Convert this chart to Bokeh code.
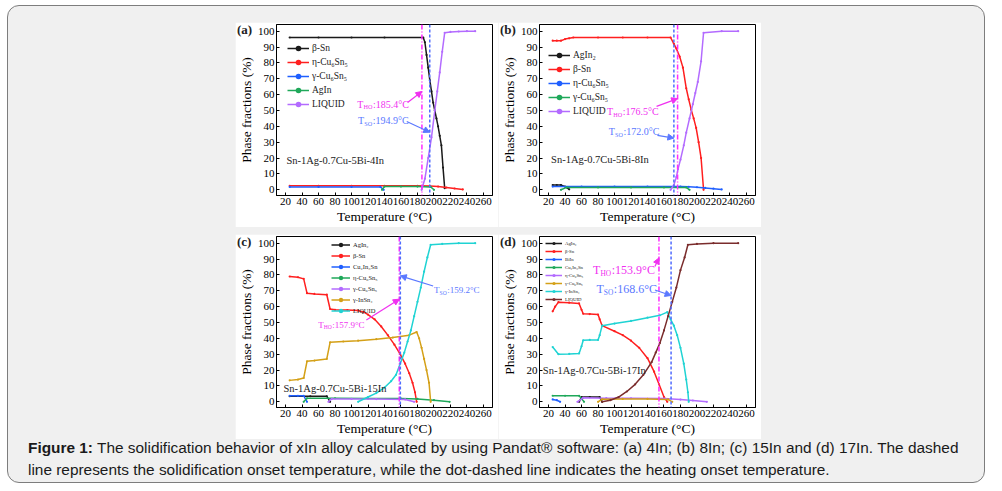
from bokeh.plotting import figure
from bokeh.models import (Legend, LegendItem, Label, Span, Arrow, NormalHead,
                          FixedTicker, Range1d, Div, Row, Column)
from bokeh.embed import file_html
from bokeh.resources import INLINE

# ---------------- data (temperature in °C, phase fraction in %) ----------------
X_TICKS = [20, 40, 60, 80, 100, 120, 140, 160, 180, 200, 220, 240, 260]
Y_TICKS = [0, 10, 20, 30, 40, 50, 60, 70, 80, 90, 100]

# (a) Sn-1Ag-0.7Cu-5Bi-4In
A_ALLOY = "Sn-1Ag-0.7Cu-5Bi-4In"
A_THO, A_TSO = 185.4, 194.9
A_BSN_T = [25, 60, 100, 140, 187, 189, 191, 193, 195, 197, 199, 201, 203, 205, 207, 209, 211, 213]
A_BSN = [96, 96, 96, 96, 96, 93, 85, 77, 69, 62, 55, 50, 45, 40, 34, 28, 14, 1]
A_ETA_T = [25, 60, 100, 140, 180, 195, 205, 215, 225, 235]
A_ETA = [2.5, 2.5, 2.5, 2.5, 2.5, 2.4, 2.0, 1.4, 0.8, 0.2]
A_GAM_T = [25, 60, 100, 135, 139]
A_GAM = [1.8, 1.8, 1.8, 1.8, 0]
A_AGIN_T = [137, 140, 160, 180, 196, 200]
A_AGIN = [0, 2.0, 2.0, 2.0, 1.8, 0]
A_LIQ_T = [185, 189, 193, 197, 201, 204, 207, 210, 213, 220, 230, 240, 250]
A_LIQ = [0, 7, 20, 33, 50, 62, 74, 87, 99, 99.5, 99.8, 100, 100]

# (b) Sn-1Ag-0.7Cu-5Bi-8In
B_ALLOY = "Sn-1Ag-0.7Cu-5Bi-8In"
B_THO, B_TSO = 176.5, 172.0
B_AGIN2_T = [25, 30, 35, 40, 45]
B_AGIN2 = [3, 3, 3, 2, 0.3]
B_BSN_T = [25, 30, 35, 40, 45, 50, 80, 110, 140, 168, 172, 175, 179, 183, 187, 190, 193, 196, 199, 202, 205, 208]
B_BSN = [94, 94, 94, 95, 95.5, 96, 96, 96, 96, 96, 92, 89, 84, 77, 64, 57, 50.5, 45, 39, 30, 20, 0]
B_ETA_T = [25, 60, 100, 140, 180, 190, 200, 210, 220, 230]
B_ETA = [2, 2, 2, 2, 2, 1.9, 1.6, 1.2, 0.7, 0.2]
B_GAM_T = [35, 42, 80, 120, 160, 187, 191]
B_GAM = [0, 1.5, 1.5, 1.5, 1.5, 1.5, 0]
B_LIQ_T = [168, 172, 175, 177, 180, 184, 187, 191, 195, 198, 201, 205, 208, 230, 250]
B_LIQ = [0, 3, 8, 13, 19, 28, 36, 45, 54, 61, 68, 81, 99, 100, 100]

# (c) Sn-1Ag-0.7Cu-5Bi-15In
C_ALLOY = "Sn-1Ag-0.7Cu-5Bi-15In"
C_THO, C_TSO = 157.9, 159.2
C_AGIN2_T = [25, 50, 70, 74]
C_AGIN2 = [3.5, 3.5, 3.5, 0]
C_BSN_T = [25, 35, 42, 46, 55, 70, 74, 80, 95, 108, 115, 120, 128, 136, 144, 152, 159, 165, 170, 174, 177, 179]
C_BSN = [79, 78.5, 77.5, 68.5, 68, 67.5, 58.5, 58, 57.8, 57.5, 56.5, 55, 52, 47.5, 42, 36, 30, 24, 18, 12, 6, 0]
C_CU2_T = [25, 35, 42, 46]
C_CU2 = [3.8, 3.8, 3.8, 0]
C_ETA_T = [42, 46, 80, 120, 160, 180, 200, 219]
C_ETA = [0, 2.2, 2.2, 2.1, 2.0, 1.8, 1.0, 0]
C_GCU_T = [72, 76, 100, 130, 165, 176]
C_GCU = [0, 1.8, 1.8, 1.7, 1.5, 0]
C_INSN_T = [25, 35, 42, 46, 55, 70, 74, 90, 108, 130, 150, 170, 179, 182, 185, 188, 191, 194, 196]
C_INSN = [13.5, 14, 15, 25.5, 26, 27, 37.5, 38, 38.5, 39.5, 40.5, 42, 44, 40, 34, 27, 20, 12, 0]
C_LIQ_T = [108, 120, 130, 140, 148, 154, 159, 164, 168, 172, 176, 180, 184, 188, 192, 196, 210, 230, 250]
C_LIQ = [0, 3, 5.5, 9, 13, 17, 24, 31, 38, 45, 54, 63, 72, 82, 91, 99, 99.5, 100, 100]

# (d) Sn-1Ag-0.7Cu-5Bi-17In
D_ALLOY = "Sn-1Ag-0.7Cu-5Bi-17In"
D_THO, D_TSO = 153.9, 168.6
D_AGIN2_T = [57, 60, 70, 82, 85]
D_AGIN2 = [0, 3.0, 3.0, 3.0, 0]
D_BSN_T = [25, 28, 32, 45, 57, 60, 62, 70, 80, 82, 85, 100, 110, 120, 130, 140, 148, 154, 160, 164]
D_BSN = [57, 60, 62.8, 62.5, 62, 58, 55.5, 55.3, 55, 52, 48, 44.5, 42, 38.5, 34, 27.5, 19, 11, 3, 0]
D_BIIN_T = [25, 30, 34]
D_BIIN = [1.5, 1.0, 0]
D_CU2_T = [25, 40, 57, 60, 63]
D_CU2 = [3.8, 3.8, 3.8, 2.0, 0]
D_ETA_T = [55, 62, 90, 120, 160, 180, 195, 212]
D_ETA = [0, 2.5, 2.3, 2.2, 2.0, 1.4, 0.8, 0]
D_GCU_T = [80, 85, 110, 140, 165, 170]
D_GCU = [0, 1.6, 1.8, 1.8, 1.5, 0]
D_INSN_T = [25, 32, 45, 57, 60, 62, 70, 80, 82, 85, 100, 120, 140, 155, 164, 168, 172, 176, 180, 184, 187, 189, 190]
D_INSN = [34.5, 30, 30.2, 30.5, 35, 38.8, 39, 39, 42, 48, 49.3, 51, 53, 54.5, 56.5, 52, 48, 42, 34, 24, 14, 6, 0]
D_LIQ_T = [85, 95, 105, 115, 125, 135, 145, 150, 155, 160, 165, 170, 175, 180, 185, 189, 200, 220, 250]
D_LIQ = [0, 1, 3, 6.5, 11, 17, 25, 31, 37, 45, 54, 63, 72, 83, 91, 99, 99.5, 100, 100]

CAPTION_HEAD = "Figure 1:"
CAPTION_LINE1 = (" The solidification behavior of xIn alloy calculated by using Pandat® software: "
                 "(a) 4In; (b) 8In; (c) 15In and (d) 17In. The dashed")
CAPTION_LINE2 = ("line represents the solidification onset temperature, while the dot-dashed line "
                 "indicates the heating onset temperature.")

# ---------------- styling ----------------
BLACK, RED, BLUE, GREEN = "#1a1a1a", "#ff1f1f", "#1f5fff", "#1fa85a"
VIOLET, GOLD, CYAN, BROWN = "#b36bff", "#d4a017", "#1fd3d3", "#7a2c2c"
HO_LINE, HO_TEXT = "#ff2bff", "#f030f0"
SO_LINE, SO_TEXT = "#4f6bff", "#5a78ff"
SERIF = "Liberation Serif"


def t_label(p, x, y, sub, val, color, size):
    common = dict(x=x, y=y, text_color=color, text_font=SERIF,
                  text_baseline="middle", text_align="left")
    p.add_layout(Label(text="T", text_font_size=f"{size}px", **common))
    w_t = 0.62 * size
    sub_size = 0.62 * size
    p.add_layout(Label(text=sub, text_font_size=f"{sub_size:.1f}px",
                       x_offset=w_t, y_offset=-0.28 * size, **common))
    w_sub = {"HO": 1.444, "SO": 1.278}[sub] * sub_size + 0.5
    p.add_layout(Label(text=f":{val:.1f}°C", text_font_size=f"{size}px",
                       x_offset=w_t + w_sub, **common))


def panel(series, tho, tso, alloy, leg, ann):
    p = figure(width=263, height=205, x_range=Range1d(9, 271), y_range=Range1d(-3.6, 104.2),
               output_backend="svg", toolbar_location=None,
               min_border_left=38, min_border_right=6, min_border_top=2, min_border_bottom=32,
               background_fill_color="white", border_fill_color="white",
               outline_line_color="black", outline_line_width=1)
    p.xgrid.visible = False
    p.ygrid.visible = False
    p.xaxis.ticker = FixedTicker(ticks=X_TICKS)
    p.yaxis.ticker = FixedTicker(ticks=Y_TICKS)
    p.xaxis.axis_label = "Temperature (°C)"
    p.yaxis.axis_label = "Phase fractions (%)"
    for ax in (p.xaxis[0], p.yaxis[0]):
        ax.axis_label_text_font = SERIF
        ax.axis_label_text_font_style = "normal"
        ax.axis_label_text_font_size = "13.5px"
        ax.axis_label_text_color = "black"
        ax.axis_label_standoff = 1
        ax.major_label_text_font = SERIF
        ax.major_label_text_font_size = "11px"
        ax.major_label_text_color = "black"
        ax.major_label_standoff = 2
        ax.major_tick_in = 3
        ax.major_tick_out = 0
        ax.minor_tick_in = 0
        ax.minor_tick_out = 0
        ax.axis_line_color = "black"
        ax.major_tick_line_color = "black"

    items = []
    for name, color, xs, ys in series:
        r1 = p.line(xs, ys, line_color=color, line_width=1.5)
        r2 = p.scatter(xs, ys, size=2.2, fill_color=color, line_alpha=0)
        items.append(LegendItem(label=name, renderers=[r1, r2]))
    legend = Legend(items=items, location=leg["loc"], padding=0, margin=0, spacing=0,
                    background_fill_alpha=0, border_line_alpha=0,
                    glyph_width=leg["gw"], glyph_height=leg["h"], label_height=leg["h"],
                    label_standoff=3, label_text_font=SERIF,
                    label_text_font_size=leg["fs"], label_text_color="#222222")
    p.add_layout(legend)

    p.add_layout(Span(location=tho, dimension="height", line_color=HO_LINE,
                      line_dash="5 2 1 2", line_width=1.5))
    p.add_layout(Span(location=tso, dimension="height", line_color=SO_LINE,
                      line_dash="3 2", line_width=1.5))

    fs = ann["fs"]
    hx, hy = ann["ho_text"]
    t_label(p, hx, hy, "HO", tho, HO_TEXT, fs)
    (x0, y0), y1 = ann["ho_arrow"]
    p.add_layout(Arrow(end=NormalHead(size=6, fill_color=HO_TEXT, line_color=HO_TEXT),
                       x_start=x0, y_start=y0, x_end=tho, y_end=y1,
                       line_color=HO_TEXT, line_width=1.2))
    sx, sy = ann["so_text"]
    t_label(p, sx, sy, "SO", tso, SO_TEXT, fs)
    (x0, y0), y1 = ann["so_arrow"]
    p.add_layout(Arrow(end=NormalHead(size=6, fill_color=SO_TEXT, line_color=SO_TEXT),
                       x_start=x0, y_start=y0, x_end=tso, y_end=y1,
                       line_color=SO_TEXT, line_width=1.2))

    ax_, ay_ = ann["alloy"]
    p.add_layout(Label(x=ax_, y=ay_, text=alloy, text_font=SERIF, text_font_size="10.5px",
                       text_baseline="middle", text_color="#222222"))
    return p


def tag(text):
    # panel letter, overlaid on the top-left corner of the following panel
    return Div(text=text, width=20, height=16, margin=(0, -22, 0, 2),
               styles={"font-family": "'Liberation Serif', serif", "font-weight": "bold",
                       "font-size": "13px", "line-height": "16px", "color": "#222222",
                       "z-index": "5"})


pa = panel([
    ("β-Sn", BLACK, A_BSN_T, A_BSN),
    ("η-Cu₆Sn₅", RED, A_ETA_T, A_ETA),
    ("γ-Cu₆Sn₅", BLUE, A_GAM_T, A_GAM),
    ("AgIn", GREEN, A_AGIN_T, A_AGIN),
    ("LIQUID", VIOLET, A_LIQ_T, A_LIQ),
], A_THO, A_TSO, A_ALLOY,
    dict(loc=(11, 84), gw=22, h=14, fs="9.5px"),
    dict(fs=10, ho_text=(107, 54), ho_arrow=((168, 55), 62),
         so_text=(108, 43.5), so_arrow=((167, 43), 36.3), alloy=(21, 18.5)))

pb = panel([
    ("AgIn₂", BLACK, B_AGIN2_T, B_AGIN2),
    ("β-Sn", RED, B_BSN_T, B_BSN),
    ("η-Cu₆Sn₅", BLUE, B_ETA_T, B_ETA),
    ("γ-Cu₆Sn₅", GREEN, B_GAM_T, B_GAM),
    ("LIQUID", VIOLET, B_LIQ_T, B_LIQ),
], B_THO, B_TSO, B_ALLOY,
    dict(loc=(9, 77), gw=22, h=14, fs="9.5px"),
    dict(fs=10, ho_text=(91, 49.5), ho_arrow=((151, 52.6), 57.5),
         so_text=(93, 36.8), so_arrow=((152, 34.3), 32.6), alloy=(23, 19)))

pc = panel([
    ("AgIn₂", BLACK, C_AGIN2_T, C_AGIN2),
    ("β-Sn", RED, C_BSN_T, C_BSN),
    ("Cu₂In₃Sn", BLUE, C_CU2_T, C_CU2),
    ("η-Cu₆Sn₅", GREEN, C_ETA_T, C_ETA),
    ("γ-Cu₆Sn₅", VIOLET, C_GCU_T, C_GCU),
    ("γ-InSn₄", GOLD, C_INSN_T, C_INSN),
    ("LIQUID", CYAN, C_LIQ_T, C_LIQ),
], C_THO, C_TSO, C_ALLOY,
    dict(loc=(55, 91), gw=19, h=11, fs="6.5px"),
    dict(fs=9, ho_text=(59.5, 48.5), ho_arrow=((118, 51.5), 64.7),
         so_text=(200, 70.4), so_arrow=((199, 73), 79.4), alloy=(17.5, 8.4)))

pd = panel([
    ("AgIn₂", BLACK, D_AGIN2_T, D_AGIN2),
    ("β-Sn", RED, D_BSN_T, D_BSN),
    ("BiIn", BLUE, D_BIIN_T, D_BIIN),
    ("Cu₂In₃Sn", GREEN, D_CU2_T, D_CU2),
    ("η-Cu₆Sn₅", VIOLET, D_ETA_T, D_ETA),
    ("γ-Cu₆Sn₅", GOLD, D_GCU_T, D_GCU),
    ("γ-InSn₄", CYAN, D_INSN_T, D_INSN),
    ("LIQUID", BROWN, D_LIQ_T, D_LIQ),
], D_THO, D_TSO, D_ALLOY,
    dict(loc=(6, 104), gw=17, h=8, fs="4.8px"),
    dict(fs=12, ho_text=(74, 83.2), ho_arrow=((149, 85.3), 90.7),
         so_text=(78, 71.2), so_arrow=((149, 70.5), 67), alloy=(13, 19.6)))

row1 = Row(children=[tag("(a)"), pa, tag("(b)"), pb], margin=(16, 0, 0, 227))
row2 = Row(children=[tag("(c)"), pc, tag("(d)"), pd], margin=(7, 0, 0, 227))
caption = Div(text=(f"<b>{CAPTION_HEAD}</b><span>{CAPTION_LINE1}</span><br>"
                    f"<span>{CAPTION_LINE2}</span>"),
              width=945, height=46, margin=(-2, 0, 0, 20),
              styles={"font-family": "'Liberation Sans', Arial, sans-serif",
                      "font-size": "15.4px", "line-height": "22px", "color": "#1a1a1a",
                      "white-space": "nowrap"})
box = Column(children=[row1, row2, caption], width=978, height=478, margin=(5, 0, 0, 7),
             styles={"background-color": "#f0f0f0", "border": "1px solid #7d7d7d",
                     "border-radius": "12px", "box-sizing": "border-box"})
root = Column(children=[box], width=1002, height=491, styles={"background-color": "white"})

open("out.html", "w").write(file_html(root, INLINE))
